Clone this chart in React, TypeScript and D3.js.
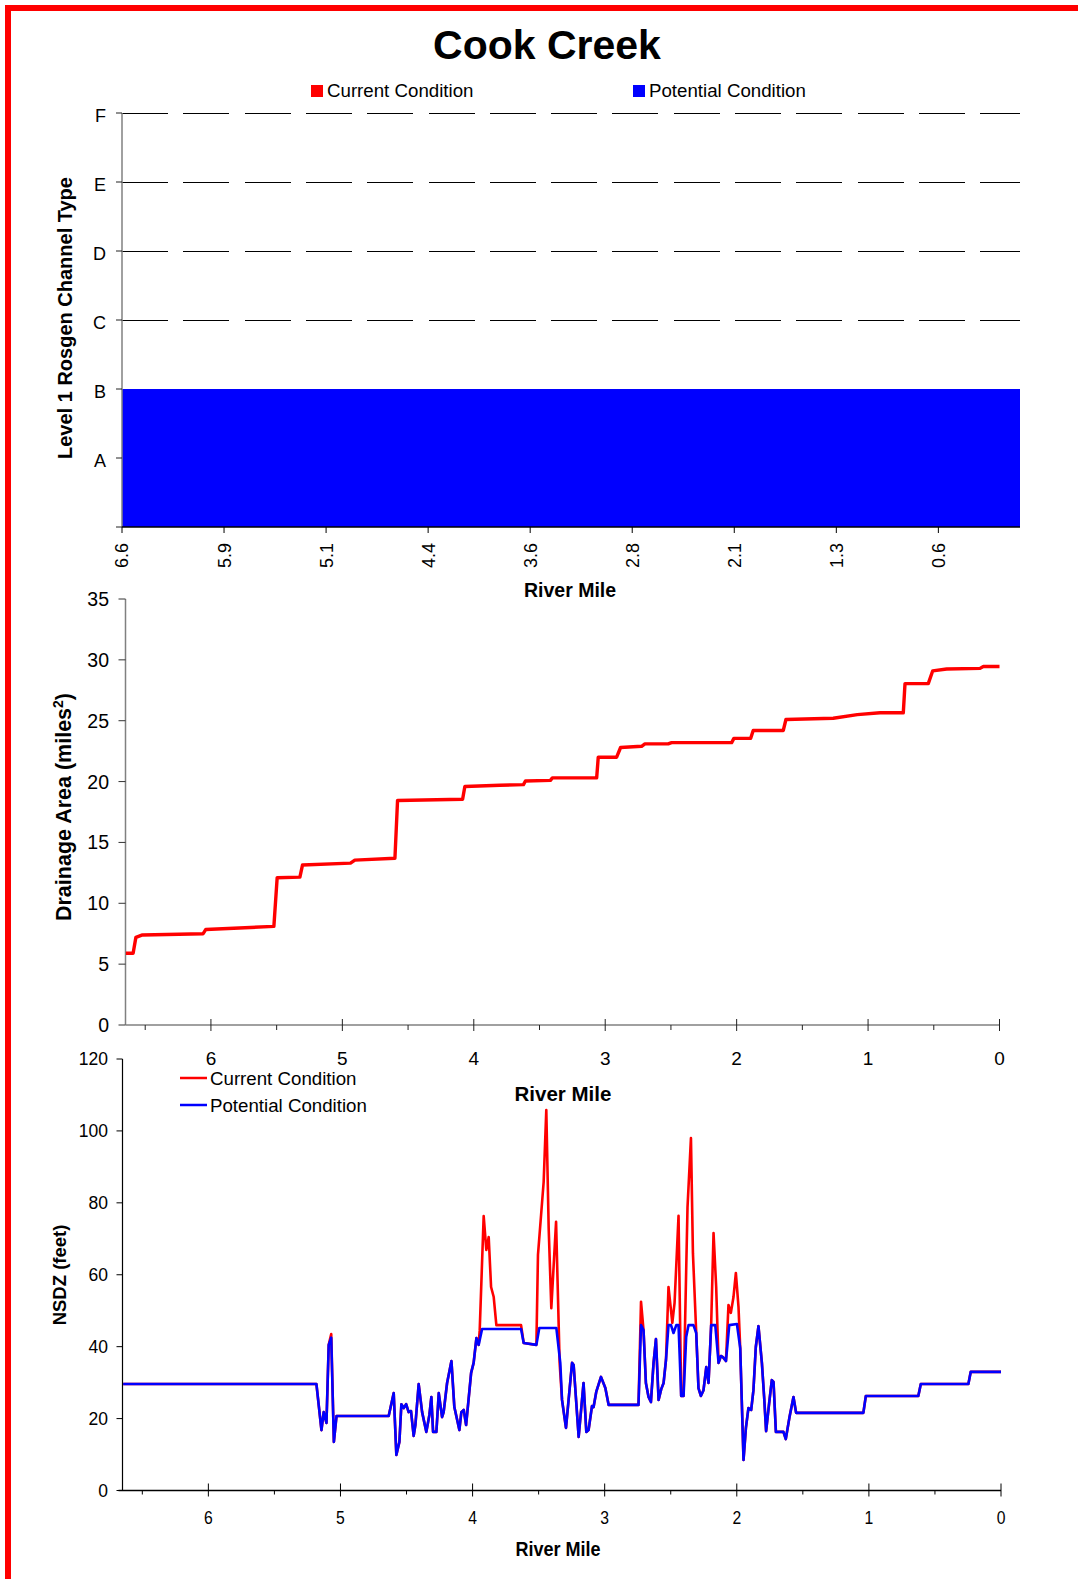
import React from 'react';
import * as d3 from 'd3';

const W = 1078;
const H = 1579;
const FONT = '"Liberation Sans", Arial, Helvetica, sans-serif';
const NARROW = '"Liberation Sans Narrow", "Arial Narrow", "Liberation Sans", sans-serif';

// --- channel type (top panel)
const channelTypes = ['A', 'B', 'C', 'D', 'E', 'F'];
const channelTickMiles = [6.6, 5.85, 5.1, 4.35, 3.6, 2.85, 2.1, 1.35, 0.6];
const channelTickLabels = ['6.6', '5.9', '5.1', '4.4', '3.6', '2.8', '2.1', '1.3', '0.6'];
const channelReach = [6.6, 0];
const currentChannelType = 2; // B
const potentialChannelType = 2; // B

// --- drainage area (middle panel), [river mile, sq miles]
const drainageArea: [number, number][] = [
  [6.647, 5.9], [6.592, 5.9], [6.571, 7.2], [6.521, 7.4], [6.059, 7.5], [6.039, 7.85],
  [5.521, 8.1], [5.496, 12.1], [5.323, 12.15], [5.303, 13.15], [4.938, 13.3], [4.905, 13.55],
  [4.6, 13.7], [4.58, 18.45], [4.085, 18.55], [4.068, 19.6], [3.801, 19.7], [3.622, 19.75],
  [3.607, 20.05], [3.417, 20.1], [3.402, 20.3], [3.065, 20.3], [3.053, 22.0], [2.913, 22.0],
  [2.883, 22.8], [2.723, 22.9], [2.698, 23.1], [2.521, 23.1], [2.495, 23.2], [2.038, 23.2],
  [2.021, 23.55], [1.893, 23.55], [1.874, 24.2], [1.645, 24.2], [1.625, 25.1], [1.265, 25.2],
  [1.082, 25.5], [0.909, 25.65], [0.732, 25.65], [0.719, 28.05], [0.542, 28.05], [0.508, 29.1],
  [0.402, 29.25], [0.148, 29.3], [0.123, 29.45], [0.0, 29.45]
];

// --- NSDZ (bottom panel), [river mile, feet]
const nsdzPotential: [number, number][] = [
  [6.645, 29.6], [5.182, 29.6], [5.144, 16.8], [5.127, 21.8], [5.106, 18.8], [5.089, 40.5],
  [5.07, 42.5], [5.05, 13.5], [5.03, 20.7], [4.635, 20.7], [4.597, 27.1], [4.577, 9.9],
  [4.554, 13.5], [4.539, 24.0], [4.521, 22.9], [4.503, 24.0], [4.484, 21.8], [4.466, 22.1],
  [4.446, 15.2], [4.433, 18.2], [4.408, 29.6], [4.382, 21.8], [4.35, 16.3], [4.327, 21.0],
  [4.312, 26.0], [4.299, 16.3], [4.274, 16.3], [4.256, 27.1], [4.231, 20.4], [4.219, 21.8],
  [4.193, 29.9], [4.16, 36.0], [4.138, 23.2], [4.1, 16.8], [4.085, 21.8], [4.067, 22.4],
  [4.049, 18.2], [4.011, 32.7], [3.992, 35.5], [3.971, 42.4], [3.954, 40.5], [3.928, 44.9],
  [3.633, 44.9], [3.613, 41.0], [3.517, 40.5], [3.495, 45.2], [3.366, 45.2], [3.336, 35.5],
  [3.323, 25.2], [3.293, 17.4], [3.247, 35.5], [3.235, 34.9], [3.197, 14.9], [3.16, 29.9],
  [3.139, 16.3], [3.122, 16.8], [3.096, 23.5], [3.084, 23.2], [3.064, 27.4], [3.028, 31.6],
  [2.995, 28.5], [2.97, 23.8], [2.744, 23.8], [2.725, 46.0], [2.706, 44.6], [2.688, 29.9],
  [2.668, 26.0], [2.65, 24.6], [2.63, 35.5], [2.612, 42.1], [2.592, 25.2], [2.572, 28.2],
  [2.554, 29.9], [2.536, 36.3], [2.517, 46.0], [2.498, 46.0], [2.479, 43.8], [2.458, 46.0],
  [2.441, 46.0], [2.421, 26.3], [2.403, 26.3], [2.383, 42.7], [2.365, 46.0], [2.328, 46.0],
  [2.307, 43.8], [2.29, 28.5], [2.272, 26.3], [2.252, 27.9], [2.231, 34.3], [2.214, 29.9],
  [2.194, 46.0], [2.163, 46.0], [2.138, 35.5], [2.12, 37.4], [2.105, 37.1], [2.082, 36.0],
  [2.057, 46.0], [1.999, 46.3], [1.974, 39.6], [1.949, 8.5], [1.931, 17.4], [1.912, 22.9],
  [1.891, 22.4], [1.874, 27.9], [1.856, 39.9], [1.836, 45.7], [1.81, 35.5], [1.793, 26.0],
  [1.778, 16.5], [1.755, 24.3], [1.735, 30.7], [1.722, 30.2], [1.704, 16.3], [1.647, 16.3],
  [1.629, 14.3], [1.602, 20.2], [1.571, 26.0], [1.551, 21.6], [1.042, 21.6], [1.023, 26.3],
  [0.626, 26.3], [0.607, 29.6], [0.247, 29.6], [0.229, 33.0], [0.0, 33.0]
];

const nsdzCurrent: [number, number][] = [
  [6.645, 29.6], [5.182, 29.6], [5.144, 16.8], [5.127, 21.8], [5.106, 18.8], [5.089, 40.5],
  [5.07, 43.5], [5.05, 13.5], [5.03, 20.7], [4.635, 20.7], [4.597, 27.1], [4.577, 9.9],
  [4.554, 13.5], [4.539, 24.0], [4.521, 22.9], [4.503, 24.0], [4.484, 21.8], [4.466, 22.1],
  [4.446, 15.2], [4.433, 18.2], [4.408, 29.6], [4.382, 21.8], [4.35, 16.3], [4.327, 21.0],
  [4.312, 26.0], [4.299, 16.3], [4.274, 16.3], [4.256, 27.1], [4.231, 20.4], [4.219, 21.8],
  [4.193, 29.9], [4.16, 36.0], [4.138, 23.2], [4.1, 16.8], [4.085, 21.8], [4.067, 22.4],
  [4.049, 18.2], [4.011, 32.7], [3.992, 35.5], [3.971, 42.4], [3.954, 40.5], [3.946, 44.6],
  [3.916, 76.3], [3.896, 66.9], [3.878, 70.5], [3.86, 56.6], [3.84, 53.8], [3.82, 46.0],
  [3.633, 46.0], [3.613, 41.0], [3.517, 40.5], [3.505, 65.5], [3.462, 85.8], [3.442, 105.8],
  [3.424, 73.0], [3.404, 50.7], [3.368, 74.7], [3.341, 35.5],
  [3.323, 25.2], [3.293, 17.4], [3.247, 35.5], [3.235, 34.9], [3.197, 14.9], [3.16, 29.9],
  [3.139, 16.3], [3.122, 16.8], [3.096, 23.5], [3.084, 23.2], [3.064, 27.4], [3.028, 31.6],
  [2.995, 28.5], [2.97, 23.8], [2.744, 23.8], [2.725, 52.5], [2.706, 44.6], [2.688, 29.9],
  [2.668, 26.0], [2.65, 24.6], [2.63, 35.5], [2.612, 42.1], [2.592, 25.2], [2.572, 28.2],
  [2.554, 29.9], [2.536, 36.3], [2.517, 56.6], [2.488, 46.6], [2.471, 52.2], [2.441, 76.4],
  [2.421, 26.3], [2.403, 26.3], [2.373, 78.8], [2.347, 98.0], [2.332, 66.0],
  [2.307, 43.8], [2.29, 28.5], [2.272, 26.3], [2.252, 27.9], [2.231, 34.3], [2.214, 29.9],
  [2.194, 46.0], [2.176, 71.6], [2.156, 56.6], [2.138, 35.5], [2.12, 37.4], [2.105, 37.1],
  [2.082, 36.0], [2.063, 51.6], [2.045, 49.4], [2.025, 53.8], [2.007, 60.5], [1.987, 51.0],
  [1.974, 39.6], [1.949, 8.5], [1.931, 17.4], [1.912, 22.9],
  [1.891, 22.4], [1.874, 27.9], [1.856, 39.9], [1.836, 45.7], [1.81, 35.5], [1.793, 26.0],
  [1.778, 16.5], [1.755, 24.3], [1.735, 30.7], [1.722, 30.2], [1.704, 16.3], [1.647, 16.3],
  [1.629, 14.3], [1.602, 20.2], [1.571, 26.0], [1.551, 21.6], [1.042, 21.6], [1.023, 26.3],
  [0.626, 26.3], [0.607, 29.6], [0.247, 29.6], [0.229, 33.0], [0.0, 33.0]
];

const mileTicks = [6, 5, 4, 3, 2, 1, 0];
const mileMinorTicks = [6.5, 5.5, 4.5, 3.5, 2.5, 1.5, 0.5];

// scales
const xTop = d3.scaleLinear().domain([6.6, 0]).range([122, 1020]);
const yTop = d3.scaleLinear().domain([0, 6]).range([527, 113]);

const xMid = d3.scaleLinear().domain([6.65, 0]).range([125.5, 999.5]);
const yMid = d3.scaleLinear().domain([0, 35]).range([1025, 599]);

const xBot = d3.scaleLinear().domain([6.65, 0]).range([122.5, 1001]);
const yBot = d3.scaleLinear().domain([0, 120]).range([1490.5, 1059]);

const lineMid = d3.line<[number, number]>().x(d => xMid(d[0])).y(d => yMid(d[1]));
const lineBot = d3.line<[number, number]>().x(d => xBot(d[0])).y(d => yBot(d[1]));

export default function App() {
  const left = xTop(channelReach[0]);
  const right = xTop(channelReach[1]);
  return (
    <svg width={W} height={H} style={{ position: 'absolute', left: 0, top: 0, background: '#fff' }} fontFamily={FONT}>
      <rect x={0} y={0} width={W} height={H} fill="#fff" />
      <rect x={8} y={8} width={W + 40} height={H + 40} fill="none" stroke="#ff0000" strokeWidth={6} />

      <text x={547} y={59} textAnchor="middle" fontSize={41} fontWeight="bold">Cook Creek</text>

      {/* top legend */}
      <rect x={311} y={85} width={12} height={12} fill="#ff0000" />
      <text x={327} y={97} fontSize={18.7}>Current Condition</text>
      <rect x={633} y={85} width={12} height={12} fill="#0000ff" />
      <text x={649} y={97} fontSize={18.7}>Potential Condition</text>

      {/* top panel */}
      {channelTypes.map((c, i) => (
        <line key={c} x1={left} x2={right} y1={Math.round(yTop(i + 1)) + 0.5} y2={Math.round(yTop(i + 1)) + 0.5}
          stroke="#000" strokeWidth={1} strokeDasharray="46 15.3" shapeRendering="crispEdges" />
      ))}
      <rect x={left} y={yTop(currentChannelType)} width={right - left} height={yTop(0) - yTop(currentChannelType)} fill="#ff0000" />
      <rect x={left} y={yTop(potentialChannelType)} width={right - left} height={yTop(0) - yTop(potentialChannelType)} fill="#0000ff" />
      <line x1={left} x2={left} y1={yTop(6)} y2={yTop(0)} stroke="#808080" strokeWidth={1.5} />
      {d3.range(0, 7).map(i => (
        <line key={i} x1={left - 6} x2={left} y1={yTop(i)} y2={yTop(i)} stroke="#222" strokeWidth={1} />
      ))}
      {channelTypes.map((c, i) => (
        <text key={c} x={106} y={yTop(i + 1)} dy="0.48em" textAnchor="end" fontSize={18}>{c}</text>
      ))}
      <line x1={left} x2={right} y1={yTop(0)} y2={yTop(0)} stroke="#000" strokeWidth={1.5} />
      {channelTickMiles.map((m, i) => (
        <g key={i} transform={`translate(${xTop(m)},0)`}>
          <line y1={yTop(0)} y2={yTop(0) + 6} stroke="#000" strokeWidth={1} />
          <text transform={`translate(0,${yTop(0) + 16}) rotate(-90)`} textAnchor="end" dy="0.36em" fontSize={18}>{channelTickLabels[i]}</text>
        </g>
      ))}
      <text x={570} y={597} textAnchor="middle" fontSize={19.5} fontWeight="bold">River Mile</text>
      <text transform="translate(65,318) rotate(-90)" textAnchor="middle" dy="0.36em" fontSize={20} fontWeight="bold">Level 1 Rosgen Channel Type</text>

      {/* middle panel */}
      <line x1={xMid.range()[0]} x2={xMid.range()[0]} y1={yMid(35)} y2={yMid(0)} stroke="#808080" strokeWidth={1.5} />
      {yMid.ticks(7).map(t => (
        <g key={t}>
          <line x1={xMid.range()[0] - 7} x2={xMid.range()[0]} y1={yMid(t)} y2={yMid(t)} stroke="#333" strokeWidth={1} />
          <text x={109} y={yMid(t)} dy="0.36em" textAnchor="end" fontSize={19.5}>{t}</text>
        </g>
      ))}
      <line x1={xMid.range()[0]} x2={xMid(0)} y1={yMid(0)} y2={yMid(0)} stroke="#808080" strokeWidth={1.5} />
      {mileTicks.map(t => (
        <g key={t}>
          <line x1={xMid(t)} x2={xMid(t)} y1={yMid(0) - 6} y2={yMid(0) + 6} stroke="#222" strokeWidth={1} />
          <text x={xMid(t)} y={1065} textAnchor="middle" fontSize={19}>{t}</text>
        </g>
      ))}
      {mileMinorTicks.map(t => (
        <line key={t} x1={xMid(t)} x2={xMid(t)} y1={yMid(0)} y2={yMid(0) + 5} stroke="#222" strokeWidth={1} />
      ))}
      <path d={lineMid(drainageArea) || ''} fill="none" stroke="#ff0000" strokeWidth={3.4} strokeLinejoin="round" />
      <text x={563} y={1101} textAnchor="middle" fontSize={20.5} fontWeight="bold">River Mile</text>
      <text transform="translate(63,807) rotate(-90)" textAnchor="middle" dy="0.36em" fontSize={21.5} fontWeight="bold">
        Drainage Area (miles<tspan fontSize={14} dy={-8}>2</tspan><tspan dy={8}>)</tspan>
      </text>

      {/* bottom panel */}
      <line x1={xBot.range()[0]} x2={xBot.range()[0]} y1={yBot(120)} y2={yBot(0)} stroke="#000" strokeWidth={1.2} />
      {yBot.ticks(6).map(t => (
        <g key={t}>
          <line x1={xBot.range()[0] - 6} x2={xBot.range()[0]} y1={yBot(t)} y2={yBot(t)} stroke="#000" strokeWidth={1} />
          <text x={108} y={yBot(t)} dy="0.36em" textAnchor="end" fontSize={17.5}>{t}</text>
        </g>
      ))}
      <line x1={xBot.range()[0] - 4} x2={xBot(0)} y1={yBot(0)} y2={yBot(0)} stroke="#000" strokeWidth={1.5} />
      {mileTicks.map(t => (
        <g key={t}>
          <line x1={xBot(t)} x2={xBot(t)} y1={yBot(0) - 7} y2={yBot(0) + 6} stroke="#000" strokeWidth={1} />
          <text transform={`translate(${xBot(t)},1524) scale(0.85,1)`} textAnchor="middle" fontSize={18.5} fontFamily={NARROW}>{t}</text>
        </g>
      ))}
      {mileMinorTicks.map(t => (
        <line key={t} x1={xBot(t)} x2={xBot(t)} y1={yBot(0)} y2={yBot(0) + 4} stroke="#000" strokeWidth={1} />
      ))}
      <path d={lineBot(nsdzCurrent) || ''} fill="none" stroke="#ff0000" strokeWidth={2.6} strokeLinejoin="round" />
      <path d={lineBot(nsdzPotential) || ''} fill="none" stroke="#0000ff" strokeWidth={2.6} strokeLinejoin="round" />
      <text transform="translate(558,1556) scale(0.9,1)" textAnchor="middle" fontSize={20} fontWeight="bold" fontFamily={NARROW}>River Mile</text>
      <text transform="translate(59,1275) rotate(-90)" textAnchor="middle" dy="0.36em" fontSize={18.5} fontWeight="bold">NSDZ (feet)</text>

      {/* bottom legend */}
      <line x1={180} x2={207} y1={1078} y2={1078} stroke="#ff0000" strokeWidth={2.5} />
      <text x={210} y={1078} dy="0.36em" fontSize={18.7}>Current Condition</text>
      <line x1={180} x2={207} y1={1105} y2={1105} stroke="#0000ff" strokeWidth={2.5} />
      <text x={210} y={1105} dy="0.36em" fontSize={18.7}>Potential Condition</text>
    </svg>
  );
}
